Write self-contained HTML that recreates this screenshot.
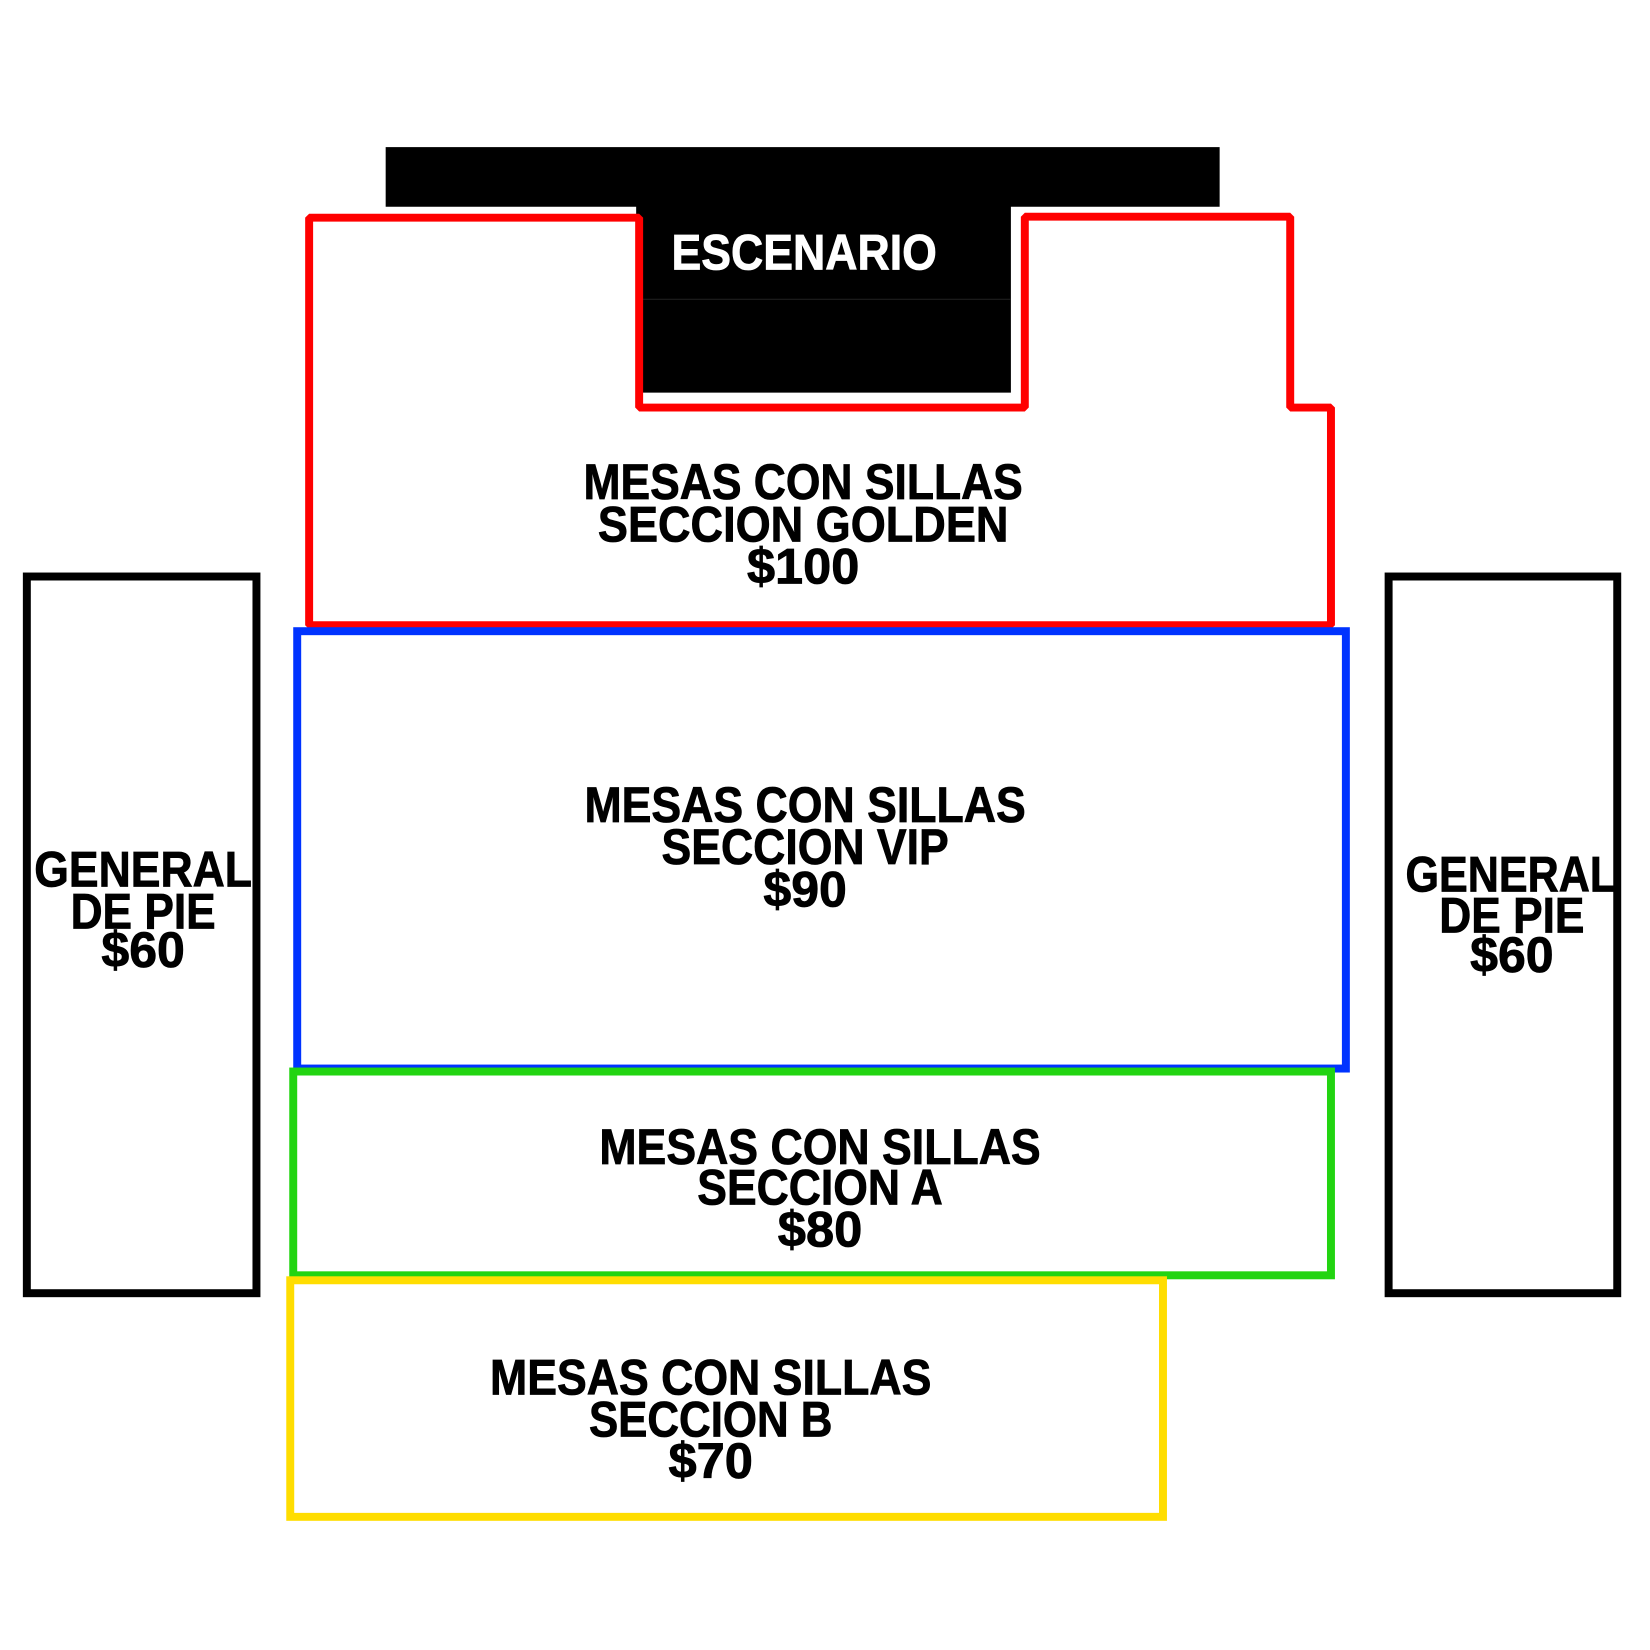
<!DOCTYPE html>
<html><head><style>html,body{margin:0;padding:0;background:#fff}svg{display:block}text{font-family:"Liberation Sans Narrow","Liberation Sans",sans-serif;font-weight:bold;font-size:50px;text-anchor:middle;stroke:#000;stroke-width:0.8}</style></head>
<body>
<svg width="1650" height="1650" viewBox="0 0 1650 1650" xmlns="http://www.w3.org/2000/svg">
<rect width="1650" height="1650" fill="#fff"/>
<g transform="scale(0.994)">
<rect x="388" y="148" width="839" height="60" fill="#000"/>
<rect x="640" y="206" width="377" height="189" fill="#000"/>
<line x1="645" y1="301" x2="1017" y2="301" stroke="#222" stroke-width="1"/>
<polygon points="311,219 643,219 643,410 1031,410 1031,218 1298,218 1298,410 1339,410 1339,629 311,629" fill="none" stroke="#ff0000" stroke-width="8" stroke-linejoin="bevel"/>
<rect x="299" y="635" width="1055" height="440" fill="none" stroke="#0033ff" stroke-width="8"/>
<rect x="295" y="1078" width="1044" height="205" fill="none" stroke="#22d411" stroke-width="8"/>
<rect x="292" y="1288" width="878" height="238" fill="none" stroke="#ffdd00" stroke-width="8"/>
<rect x="27" y="580" width="231" height="721" fill="none" stroke="#000" stroke-width="8"/>
<rect x="1397" y="580" width="230" height="721" fill="none" stroke="#000" stroke-width="8"/>
<g transform="translate(0,0)">
<text x="809" y="271" fill="#fff" style="stroke:#fff" font-size="56" textLength="267" lengthAdjust="spacingAndGlyphs">ESCENARIO</text>
<text x="808" y="502" textLength="442" lengthAdjust="spacingAndGlyphs">MESAS CON SILLAS</text>
<text x="808" y="545" textLength="413" lengthAdjust="spacingAndGlyphs">SECCION GOLDEN</text>
<text x="808" y="587" textLength="113" lengthAdjust="spacingAndGlyphs">$100</text>

<text x="810" y="827" textLength="444" lengthAdjust="spacingAndGlyphs">MESAS CON SILLAS</text>
<text x="810" y="869" textLength="289" lengthAdjust="spacingAndGlyphs">SECCION VIP</text>
<text x="810" y="912" textLength="84" lengthAdjust="spacingAndGlyphs">$90</text>

<text x="825" y="1171" textLength="444" lengthAdjust="spacingAndGlyphs">MESAS CON SILLAS</text>
<text x="825" y="1212" textLength="247" lengthAdjust="spacingAndGlyphs">SECCION A</text>
<text x="825" y="1254" textLength="85" lengthAdjust="spacingAndGlyphs">$80</text>

<text x="715" y="1403" textLength="444" lengthAdjust="spacingAndGlyphs">MESAS CON SILLAS</text>
<text x="715" y="1445" textLength="245" lengthAdjust="spacingAndGlyphs">SECCION B</text>
<text x="715" y="1487" textLength="85" lengthAdjust="spacingAndGlyphs">$70</text>

<text x="144" y="892" textLength="219" lengthAdjust="spacingAndGlyphs">GENERAL</text>
<text x="144" y="934" textLength="146" lengthAdjust="spacingAndGlyphs">DE PIE</text>
<text x="144" y="973" textLength="84" lengthAdjust="spacingAndGlyphs">$60</text>

<text x="1520" y="897" textLength="212" lengthAdjust="spacingAndGlyphs">GENERAL</text>
<text x="1521" y="938" textLength="146" lengthAdjust="spacingAndGlyphs">DE PIE</text>
<text x="1521" y="978" textLength="84" lengthAdjust="spacingAndGlyphs">$60</text>
</g>
</g>
</svg>
</body></html>
